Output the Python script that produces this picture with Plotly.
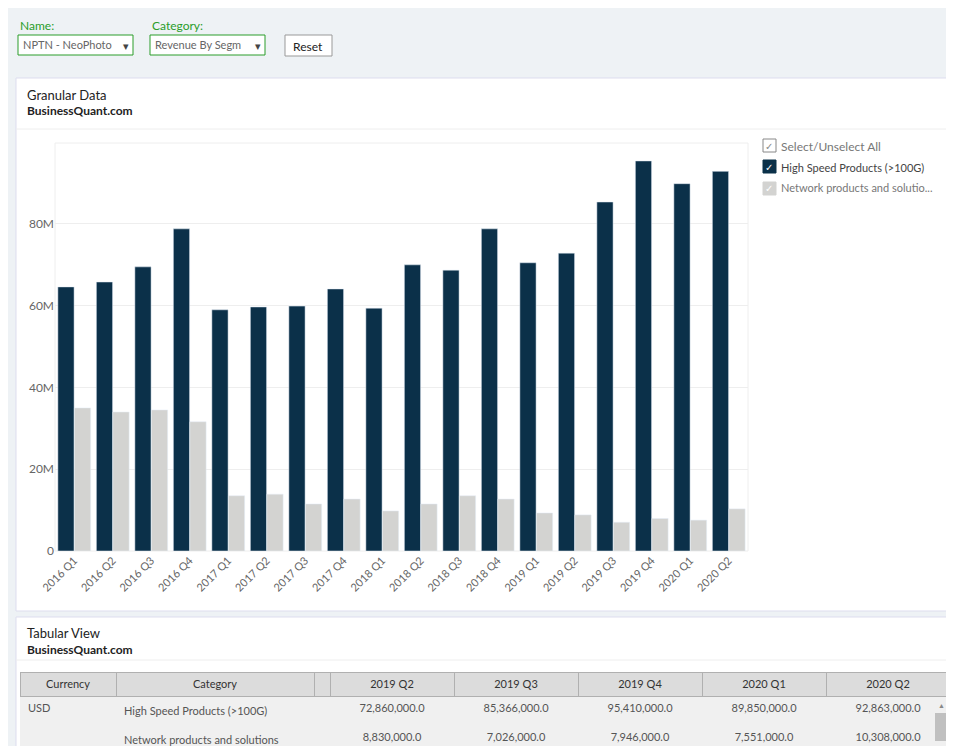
import plotly.graph_objects as go

quarters = ["2016 Q1", "2016 Q2", "2016 Q3", "2016 Q4", "2017 Q1", "2017 Q2", "2017 Q3", "2017 Q4",
            "2018 Q1", "2018 Q2", "2018 Q3", "2018 Q4", "2019 Q1", "2019 Q2", "2019 Q3", "2019 Q4",
            "2020 Q1", "2020 Q2"]
high_speed = [64.6, 65.8, 69.5, 78.8, 59.0, 59.7, 59.9, 64.1, 59.4, 70.0, 68.7, 78.8, 70.5,
              72.86, 85.366, 95.41, 89.85, 92.863]
network = [35.0, 34.0, 34.5, 31.6, 13.5, 13.9, 11.5, 12.7, 9.8, 11.5, 13.5, 12.7, 9.3,
           8.83, 7.026, 7.946, 7.551, 10.308]
high_speed = [v * 1e6 for v in high_speed]
network = [v * 1e6 for v in network]

tab_cols = ["Currency", "Category", "", "2019 Q2", "2019 Q3", "2019 Q4", "2020 Q1", "2020 Q2"]
tab_cats = ["High Speed Products (>100G)", "Network products and solutions<br>(<100G)"]

W, H = 954, 746
def px(x): return x / W
def py(y): return 1 - y / H

fig = go.Figure()
fig.add_trace(go.Bar(x=quarters, y=high_speed, marker_color="#0b3049", name="High Speed Products (>100G)"))
fig.add_trace(go.Bar(x=quarters, y=network, marker_color="#d3d3d1", name="Network products and solutions (<100G)"))

def fmt(v): return f"{v:,.1f}"
cells = [["USD", ""], tab_cats, ["", ""]]
for i in range(13, 18):
    cells.append([fmt(high_speed[i]), fmt(network[i])])
fig.add_trace(go.Table(
    domain=dict(x=[px(12), px(942)], y=[0, py(664)]),
    columnwidth=[96, 198, 16, 124, 124, 124, 124, 124],
    header=dict(values=tab_cols, fill_color="#dcdcdc", line_color="#b0b0b0",
                font=dict(size=11, color="#333", family="Lato"), align="center", height=24),
    cells=dict(values=cells, fill_color="#f0f0f0", line_color="#f0f0f0",
               font=dict(size=11, color="#555", family="Lato"),
               align=["left", "left", "left", "center", "center", "center", "center", "center"], height=22),
))

shapes = [
    dict(type="rect", xref="paper", yref="paper", x0=0, x1=1, y0=0, y1=1, fillcolor="#eef2f5", line_width=0, layer="below"),
    dict(type="rect", xref="paper", yref="paper", x0=px(8), x1=px(947), y0=py(603), y1=py(70), fillcolor="white", line=dict(color="#dde", width=1), layer="below"),
    dict(type="rect", xref="paper", yref="paper", x0=px(8), x1=px(947), y0=0, y1=py(609), fillcolor="white", line=dict(color="#dde", width=1), layer="below"),
    dict(type="line", xref="paper", yref="paper", x0=px(8), x1=px(947), y0=py(121), y1=py(121), line=dict(color="#eee", width=1)),
    dict(type="line", xref="paper", yref="paper", x0=px(8), x1=px(947), y0=py(652), y1=py(652), line=dict(color="#eee", width=1)),
    dict(type="rect", xref="paper", yref="paper", x0=px(10), x1=px(125), y0=py(47), y1=py(27), fillcolor="white", line=dict(color="#2a9d2a", width=1)),
    dict(type="rect", xref="paper", yref="paper", x0=px(142), x1=px(257), y0=py(47), y1=py(27), fillcolor="white", line=dict(color="#2a9d2a", width=1)),
    dict(type="rect", xref="paper", yref="paper", x0=px(277), x1=px(324), y0=py(48), y1=py(27), fillcolor="white", line=dict(color="#999", width=1)),
    dict(type="rect", xref="paper", yref="paper", x0=px(755), x1=px(768), y0=py(144), y1=py(131), fillcolor="white", line=dict(color="#888", width=1)),
    dict(type="rect", xref="paper", yref="paper", x0=px(755), x1=px(768), y0=py(165), y1=py(152), fillcolor="#0b3049", line=dict(color="#0b3049", width=1)),
    dict(type="rect", xref="paper", yref="paper", x0=px(755), x1=px(768), y0=py(187), y1=py(174), fillcolor="#d3d3d1", line=dict(color="#d3d3d1", width=1)),
    dict(type="rect", xref="paper", yref="paper", x0=px(926), x1=px(940), y0=0, y1=py(690), fillcolor="#f0f0f0", line_width=0),
    dict(type="rect", xref="paper", yref="paper", x0=px(927), x1=px(939), y0=py(733), y1=py(705), fillcolor="#c0c0c0", line_width=0),
    dict(type="rect", xref="paper", yref="paper", x0=px(47), x1=px(740), y0=py(543), y1=py(135), line=dict(color="#eee", width=1), layer="below"),
]

def ann(x, y, text, size=12, color="#333", bold=False, xanchor="left"):
    return dict(xref="paper", yref="paper", x=px(x), y=py(y), text=f"<b>{text}</b>" if bold else text,
                showarrow=False, xanchor=xanchor, yanchor="middle", font=dict(size=size, color=color, family="Lato"))

annotations = [
    ann(10, 17, "Name:", 12, "#2a9d2a"),
    ann(142, 17, "Category:", 12, "#2a9d2a"),
    ann(13, 36, "NPTN - NeoPhoto", 11, "#666"),
    ann(145, 36, "Revenue By Segm", 11, "#666"),
    ann(113, 37, "▾", 11, "#444"),
    ann(245, 37, "▾", 11, "#444"),
    ann(300, 38, "Reset", 12, "#222", xanchor="center"),
    ann(17, 87, "Granular Data", 13, "#222"),
    ann(17, 103, "BusinessQuant.com", 12, "#222", True),
    ann(17, 625, "Tabular View", 13, "#222"),
    ann(17, 641, "BusinessQuant.com", 12, "#222", True),
    ann(771, 138, "Select/Unselect All", 12, "#777"),
    ann(771, 159, "High Speed Products (>100G)", 11, "#444"),
    ann(771, 180, "Network products and solutio...", 11, "#777"),
    ann(761, 138, "✓", 10, "#888", xanchor="center"),
    ann(761, 159, "✓", 10, "white", xanchor="center"),
    ann(761, 180, "✓", 10, "white", xanchor="center"),
    ann(933, 697, "▲", 7, "#888", xanchor="center"),
]

fig.update_layout(
    width=W, height=H, margin=dict(l=0, r=0, t=0, b=0, autoexpand=False),
    paper_bgcolor="#eef2f5", plot_bgcolor="white",
    barmode="group", bargap=0.14, bargroupgap=0.02, showlegend=False,
    font=dict(family="Lato", color="#555", size=12),
    shapes=shapes, annotations=annotations,
    xaxis=dict(domain=[px(47), px(740)], tickangle=-45, tickfont=dict(size=11, color="#666"),
               showline=False, anchor="y", automargin=False),
    yaxis=dict(domain=[py(543), py(135)], range=[0, 99.8e6], tickvals=[0, 20e6, 40e6, 60e6, 80e6],
               ticktext=["0", "20M", "40M", "60M", "80M"], gridcolor="#eee", zeroline=False,
               tickfont=dict(size=12, color="#666"), automargin=False),
)

fig.write_html("out.html")
